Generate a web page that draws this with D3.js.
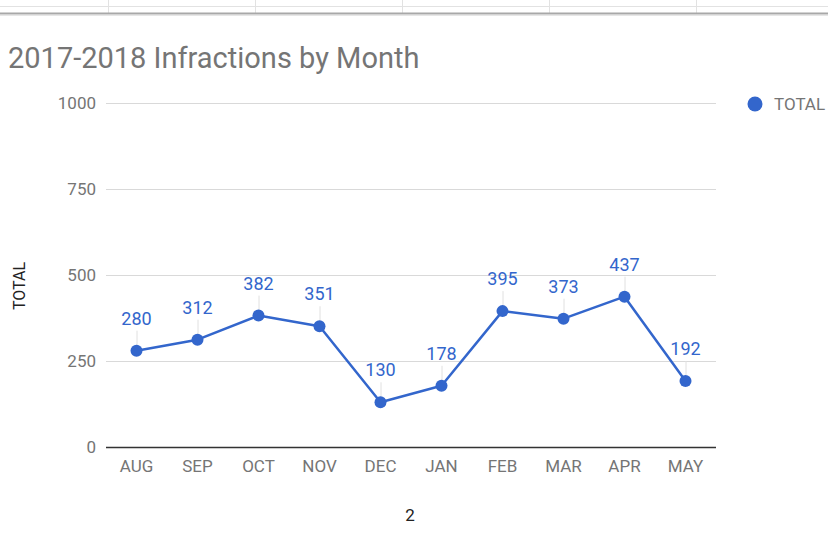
<!DOCTYPE html>
<html>
<head>
<meta charset="utf-8">
<script src="https://cdn.jsdelivr.net/npm/d3@7"></script>
<style>
  html, body { margin: 0; padding: 0; background: #fff; }
  svg { display: block; font-family: Roboto, "Noto Sans", sans-serif; }
</style>
</head>
<body>
<svg id="chart" width="828" height="551"></svg>
<script>
// Monthly infraction totals for the 2017-2018 school year
const months = ["AUG", "SEP", "OCT", "NOV", "DEC", "JAN", "FEB", "MAR", "APR", "MAY"];
const totals = [280, 312, 382, 351, 130, 178, 395, 373, 437, 192];
const yTicks = [0, 250, 500, 750, 1000];
const seriesName = "TOTAL";
const titleText = "2017-2018 Infractions by Month";
const xTitle = "2";

const lineColor = "#3366cc";
const svg = d3.select("#chart");

// Spreadsheet grid strip along the top edge
const grid = svg.append("g");
grid.append("line").attr("x1", 0).attr("x2", 828).attr("y1", 6.5).attr("y2", 6.5)
  .attr("stroke", "#e2e2e2").attr("stroke-width", 1);
[108, 255, 402, 549, 696].forEach(x => {
  grid.append("line").attr("x1", x + 0.5).attr("x2", x + 0.5).attr("y1", 0).attr("y2", 13)
    .attr("stroke", "#e2e2e2").attr("stroke-width", 1);
});
grid.append("line").attr("x1", 0).attr("x2", 828).attr("y1", 13.5).attr("y2", 13.5)
  .attr("stroke", "#a8a8a8").attr("stroke-width", 2);
grid.append("line").attr("x1", 0).attr("x2", 828).attr("y1", 15.5).attr("y2", 15.5)
  .attr("stroke", "#e6e6e6").attr("stroke-width", 1);

// Title
svg.append("text")
  .attr("x", 8).attr("y", 68)
  .attr("font-size", 29).attr("fill", "#757575")
  .text(titleText);

// Scales
const plot = { left: 106, right: 716, top: 103, bottom: 447 };
const x = d3.scaleBand().domain(months).range([plot.left, plot.right]);
const y = d3.scaleLinear().domain([0, 1000]).range([plot.bottom, plot.top]);

// Horizontal gridlines and y tick labels
const yAxis = svg.append("g")
  .attr("transform", `translate(${plot.left},0)`)
  .call(d3.axisLeft(y).tickValues(yTicks).tickFormat(d3.format("d"))
    .tickSize(-(plot.right - plot.left)).tickPadding(10));
yAxis.select(".domain").remove();
yAxis.selectAll(".tick line")
  .attr("stroke", d => d === 0 ? "#333333" : "#d9d9d9")
  .attr("stroke-width", 1);
yAxis.selectAll(".tick text")
  .attr("font-size", 17).attr("fill", "#757575")
  .attr("font-family", "Roboto, 'Noto Sans', sans-serif");

// Month labels
const xAxis = svg.append("g")
  .attr("transform", `translate(0,${plot.bottom})`)
  .call(d3.axisBottom(x).tickSize(0).tickPadding(13));
xAxis.select(".domain").remove();
xAxis.selectAll(".tick text")
  .attr("font-size", 17).attr("fill", "#757575")
  .attr("font-family", "Roboto, 'Noto Sans', sans-serif");

// Baseline drawn over the zero gridline
svg.append("line")
  .attr("x1", plot.left).attr("x2", plot.right)
  .attr("y1", y(0) + 0.5).attr("y2", y(0) + 0.5)
  .attr("stroke", "#333333").attr("stroke-width", 1.5);

// Axis titles
svg.append("text")
  .attr("transform", `translate(25,${(plot.top + plot.bottom) / 2 + 11}) rotate(-90)`)
  .attr("text-anchor", "middle")
  .attr("font-size", 16).attr("fill", "#222")
  .text(seriesName);
svg.append("text")
  .attr("x", 410).attr("y", 521)
  .attr("text-anchor", "middle")
  .attr("font-size", 17).attr("fill", "#222")
  .text(xTitle);

const cx = d => x(d) + x.bandwidth() / 2;
const data = months.map((m, i) => ({ m, v: totals[i] }));

// Leader lines from the value labels to the points
svg.append("g").selectAll("line").data(data).join("line")
  .attr("x1", d => cx(d.m) + 0.5).attr("x2", d => cx(d.m) + 0.5)
  .attr("y1", d => y(d.v) - 20).attr("y2", d => y(d.v))
  .attr("stroke", "#e0e0e0").attr("stroke-width", 1);

// Series line
svg.append("path")
  .datum(data)
  .attr("fill", "none")
  .attr("stroke", lineColor)
  .attr("stroke-width", 2.5)
  .attr("stroke-linejoin", "round")
  .attr("d", d3.line().x(d => cx(d.m)).y(d => y(d.v)));

// Points
svg.append("g").selectAll("circle").data(data).join("circle")
  .attr("cx", d => cx(d.m)).attr("cy", d => y(d.v))
  .attr("r", 6).attr("fill", lineColor);

// Value labels
svg.append("g").selectAll("text").data(data).join("text")
  .attr("x", d => cx(d.m)).attr("y", d => y(d.v) - 26)
  .attr("text-anchor", "middle")
  .attr("font-size", 18).attr("fill", lineColor)
  .text(d => d.v);

// Legend
svg.append("circle").attr("cx", 755).attr("cy", 104).attr("r", 7.5).attr("fill", lineColor);
svg.append("text")
  .attr("x", 774).attr("y", 110)
  .attr("font-size", 17).attr("fill", "#757575")
  .text(seriesName);
</script>
</body>
</html>
